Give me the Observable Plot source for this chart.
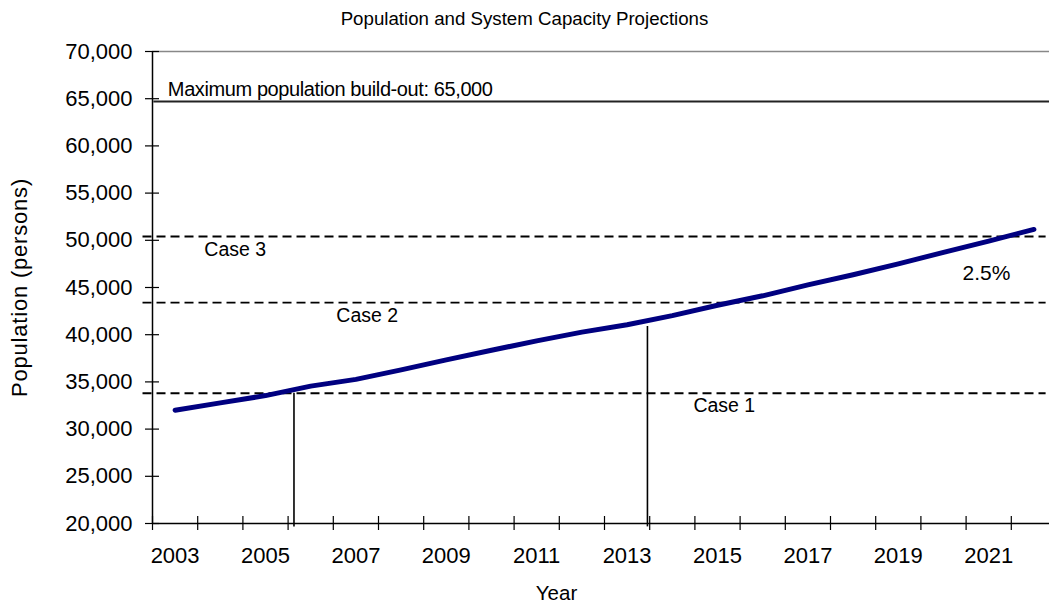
<!DOCTYPE html>
<html>
<head>
<meta charset="utf-8">
<script src="https://cdn.jsdelivr.net/npm/d3@7"></script>
<script src="https://cdn.jsdelivr.net/npm/@observablehq/plot@0.6"></script>
<style>
  html, body { margin: 0; padding: 0; background: #fff; overflow: hidden; }
  #chart svg { display: block; }
</style>
</head>
<body>
<div id="chart"></div>
<script>
// ---- data ----
const years = [2003, 2004, 2005, 2006, 2007, 2008, 2009, 2010, 2011, 2012,
               2013, 2014, 2015, 2016, 2017, 2018, 2019, 2020, 2021, 2022];
const population = [32000, 32780, 33550, 34550, 35270, 36270, 37330, 38350, 39350, 40270,
                    41050, 42020, 43120, 44120, 45280, 46350, 47500, 48720, 49920, 51150];
const caseNames = ["Case 1", "Case 2", "Case 3"];
const caseCapacity = [33800, 43400, 50400];
const caseLabelYear = [2015.15, 2007.25, 2004.33];
const buildOutValue = [64700];
const buildOutText = ["Maximum population build-out: 65,000"];
const buildOutLabelYear = [2002.84];
const markerYears = [2005.63, 2013.45];
const markerTop = [33800, 40870];
const markerBottom = [19640, 19640];
const rateText = ["2.5%"];
const rateYear = [2020.95];
const rateValue = [45750];
const yTicks = [20000, 25000, 30000, 35000, 40000, 45000, 50000, 55000, 60000, 65000, 70000];
const xLabelYears = [2003, 2005, 2007, 2009, 2011, 2013, 2015, 2017, 2019, 2021];
const xTickYears = [2002.5, 2003.5, 2004.5, 2005.5, 2006.5, 2007.5, 2008.5, 2009.5, 2010.5, 2011.5,
                    2012.5, 2013.5, 2014.5, 2015.5, 2016.5, 2017.5, 2018.5, 2019.5, 2020.5, 2021.5, 2022.5];
const titleText = "Population and System Capacity Projections";
const xTitle = "Year";
const yTitle = "Population (persons)";

// ---- tables ----
const series = years.map((y, i) => ({year: y, pop: population[i]}));
const cases = caseNames.map((n, i) => ({name: n, cap: caseCapacity[i], lx: caseLabelYear[i]}));
const markers = markerYears.map((y, i) => ({year: y, top: markerTop[i], bottom: markerBottom[i]}));

const font = "'Liberation Sans', Arial, Helvetica, sans-serif";

const chart = Plot.plot({
  width: 1049,
  height: 602,
  marginLeft: 152,
  marginTop: 51,
  marginBottom: 79,
  marginRight: -7,
  style: {fontFamily: font, fontSize: "22px", color: "#000", background: "#fff", overflow: "visible"},
  x: {domain: [2002.5, 2022.5]},
  y: {domain: [20000, 70000]},
  marks: [
    // plot-area top border
    Plot.ruleY([70000], {stroke: "#888", strokeWidth: 1.5}),
    // build-out line
    Plot.ruleY(buildOutValue, {x1: 2002.53, x2: 2022.5, stroke: "#222", strokeWidth: 2}),
    Plot.text(buildOutText, {x: buildOutLabelYear, y: buildOutValue, dy: -6, textAnchor: "start",
      lineAnchor: "bottom", fontSize: 20, fill: "#000", className: "buildout"}),
    // capacity cases
    Plot.ruleY(cases, {y: "cap", x1: 2002.29, x2: 2022.27, stroke: "#000", strokeWidth: 1.8, strokeDasharray: "9,5"}),
    Plot.text(cases, {x: "lx", y: "cap", text: "name", dy: 19, lineAnchor: "bottom", fontSize: 19.5, fill: "#000"}),
    // marker verticals
    Plot.ruleX(markers, {x: "year", y1: "bottom", y2: "top", stroke: "#000", strokeWidth: 1.6}),
    // axes lines
    Plot.ruleY([20000], {stroke: "#000", strokeWidth: 1.5}),
    Plot.ruleX([2002.5], {stroke: "#000", strokeWidth: 1.5}),
    // y axis
    Plot.axisY({ticks: yTicks, tickSize: 14, dx: 7, tickFormat: () => "", label: null, strokeWidth: 1.2}),
    Plot.axisY({ticks: yTicks, tickSize: 0, tickPadding: 20, tickFormat: d3.format(","), label: null, fontSize: 22}),
    // x axis
    Plot.axisX({ticks: xTickYears, tickSize: 14, dy: -7, tickFormat: () => "", label: null, strokeWidth: 1.2}),
    Plot.axisX({ticks: xLabelYears, tickSize: 0, tickPadding: 24, tickFormat: d => String(d), label: null, fontSize: 22}),
    // population line
    Plot.line(series, {x: "year", y: "pop", stroke: "#000080", strokeWidth: 5, strokeLinecap: "round", strokeLinejoin: "round"}),
    Plot.text(rateText, {x: rateYear, y: rateValue, lineAnchor: "bottom", fontSize: 21, fill: "#000"}),
    // titles
    Plot.text([titleText], {frameAnchor: "top", dx: -80, dy: -27, lineAnchor: "bottom", fontSize: 18.7, fill: "#000"}),
    Plot.text([xTitle], {frameAnchor: "bottom", dx: -48, dy: 76, lineAnchor: "bottom", fontSize: 20.5, fill: "#000"}),
    Plot.text([yTitle], {frameAnchor: "left", textAnchor: "middle", dx: -126, dy: 0, rotate: -90, lineAnchor: "bottom", fontSize: 22, fill: "#000", className: "ytitle"})
  ]
});
chart.querySelectorAll(".buildout text").forEach(t => t.style.letterSpacing = "-0.4px");
chart.querySelectorAll(".ytitle text").forEach(t => t.style.letterSpacing = "0.8px");
document.getElementById("chart").append(chart);
</script>
</body>
</html>
